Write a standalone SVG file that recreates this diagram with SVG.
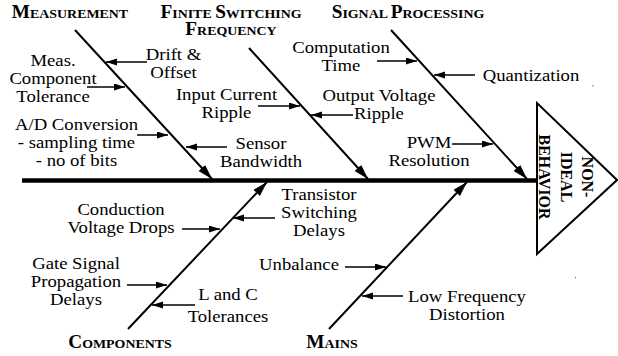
<svg xmlns="http://www.w3.org/2000/svg" width="618" height="356" viewBox="0 0 618 356">
<style>
.t{font-family:'Liberation Serif','DejaVu Serif',serif;font-size:17px;fill:#000;text-anchor:middle}
.h{font-family:'Liberation Serif','DejaVu Serif',serif;font-weight:bold;fill:#000;text-anchor:middle;font-size:13px}
.h .c{font-size:18px}
.bone{stroke:#000;stroke-width:2;fill:none;marker-end:url(#big)}
.sub{stroke:#000;stroke-width:1.5;fill:none;marker-end:url(#small)}
</style>
<defs>
<marker id="big" markerUnits="userSpaceOnUse" markerWidth="16" markerHeight="10" refX="15" refY="4.5" orient="auto"><path d="M0,0 L15,4.5 L0,9 z" fill="#000"/></marker>
<marker id="small" markerUnits="userSpaceOnUse" markerWidth="12" markerHeight="8" refX="11" refY="3.5" orient="auto"><path d="M0,0 L11,3.5 L0,7 z" fill="#000"/></marker>
</defs>
<rect width="618" height="356" fill="#fff"/>

<g id="spine"><line x1="22" y1="180.5" x2="537" y2="180.5" stroke="#000" stroke-width="4.5"/></g>

<g id="effect">
<polygon points="537,103 537,254 617,180" fill="#fff" stroke="#000" stroke-width="2"/>
<text class="h" font-family="Liberation Serif, serif" style="font-size:16px" transform="translate(582,177) scale(1.1,1) rotate(90)"><tspan x="0" y="0">NON-</tspan><tspan x="0" y="19.5">IDEAL</tspan><tspan x="0" y="39">BEHAVIOR</tspan></text>
</g>

<g id="connectors">
<line class="bone" x1="75" y1="30" x2="212" y2="179"/>
<line class="bone" x1="249" y1="48" x2="368" y2="179"/>
<line class="bone" x1="391" y1="30" x2="527" y2="179"/>
<line class="bone" x1="128" y1="329" x2="267" y2="182"/>
<line class="bone" x1="329" y1="329" x2="467" y2="182"/>
<line class="sub" x1="147" y1="62" x2="106" y2="62"/>
<line class="sub" x1="87" y1="87" x2="125" y2="87"/>
<line class="sub" x1="137" y1="135" x2="168" y2="135"/>
<line class="sub" x1="227" y1="147" x2="186" y2="147"/>
<line class="sub" x1="258" y1="106" x2="300" y2="106"/>
<line class="sub" x1="353" y1="115" x2="311" y2="115"/>
<line class="sub" x1="377" y1="61" x2="417" y2="61"/>
<line class="sub" x1="475" y1="75" x2="434" y2="75"/>
<line class="sub" x1="452" y1="144" x2="493" y2="144"/>
<line class="sub" x1="182" y1="229" x2="220" y2="229"/>
<line class="sub" x1="275" y1="218" x2="233" y2="218"/>
<line class="sub" x1="127" y1="285" x2="167" y2="285"/>
<line class="sub" x1="195" y1="305" x2="152" y2="305"/>
<line class="sub" x1="345" y1="267" x2="386" y2="267"/>
<line class="sub" x1="403" y1="296" x2="362" y2="296"/>
</g>

<g id="measurement">
<text class="h" transform="translate(70,18) scale(1.07,1)"><tspan class="c">M</tspan>EASUREMENT</text>
<text class="t" transform="translate(173.5,0) scale(1.1,1)"><tspan x="0" y="60">Drift &amp;</tspan><tspan x="0" y="78">Offset</tspan></text>
<text class="t" transform="translate(53,0) scale(1.1,1)"><tspan x="0" y="66">Meas.</tspan><tspan x="0" y="84">Component</tspan><tspan x="0" y="102">Tolerance</tspan></text>
<text class="t" transform="translate(76.5,0) scale(1.1,1)"><tspan x="0" y="130">A/D Conversion</tspan><tspan x="0" y="148">- sampling time</tspan><tspan x="0" y="166">- no of bits</tspan></text>
<text class="t" transform="translate(261,0) scale(1.1,1)"><tspan x="0" y="149">Sensor</tspan><tspan x="0" y="167">Bandwidth</tspan></text>
</g>

<g id="finite-switching">
<text class="h" transform="translate(231,18) scale(1.07,1)"><tspan class="c">F</tspan>INITE <tspan class="c">S</tspan>WITCHING</text>
<text class="h" transform="translate(231,35) scale(1.07,1)"><tspan class="c">F</tspan>REQUENCY</text>
<text class="t" transform="translate(226.5,0) scale(1.1,1)"><tspan x="0" y="100">Input Current</tspan><tspan x="0" y="118">Ripple</tspan></text>
<text class="t" transform="translate(379,0) scale(1.1,1)"><tspan x="0" y="101">Output Voltage</tspan><tspan x="0" y="119">Ripple</tspan></text>
</g>

<g id="signal-processing">
<text class="h" transform="translate(408,18) scale(1.07,1)"><tspan class="c">S</tspan>IGNAL <tspan class="c">P</tspan>ROCESSING</text>
<text class="t" transform="translate(341,0) scale(1.1,1)"><tspan x="0" y="53">Computation</tspan><tspan x="0" y="71">Time</tspan></text>
<text class="t" transform="translate(531,81) scale(1.1,1)">Quantization</text>
<text class="t" transform="translate(429,0) scale(1.1,1)"><tspan x="0" y="148">PWM</tspan><tspan x="0" y="166">Resolution</tspan></text>
</g>

<g id="components">
<text class="h" transform="translate(120,348) scale(1.07,1)"><tspan class="c">C</tspan>OMPONENTS</text>
<text class="t" transform="translate(121,0) scale(1.1,1)"><tspan x="0" y="215">Conduction</tspan><tspan x="0" y="233">Voltage Drops</tspan></text>
<text class="t" transform="translate(319,0) scale(1.1,1)"><tspan x="0" y="200">Transistor</tspan><tspan x="0" y="218">Switching</tspan><tspan x="0" y="236">Delays</tspan></text>
<text class="t" transform="translate(76,0) scale(1.1,1)"><tspan x="0" y="269">Gate Signal</tspan><tspan x="0" y="287">Propagation</tspan><tspan x="0" y="305">Delays</tspan></text>
<text class="t" transform="translate(228,0) scale(1.1,1)"><tspan x="0" y="300">L and C</tspan><tspan x="0" y="322">Tolerances</tspan></text>
</g>

<g id="mains">
<text class="h" transform="translate(332,348) scale(1.07,1)"><tspan class="c">M</tspan>AINS</text>
<text class="t" transform="translate(299,270) scale(1.1,1)">Unbalance</text>
<text class="t" transform="translate(467,0) scale(1.1,1)"><tspan x="0" y="302">Low Frequency</tspan><tspan x="0" y="320">Distortion</tspan></text>
</g>

<g id="specks" fill="#666">
<rect x="592.5" y="85" width="1" height="1.5"/>
<rect x="575" y="277" width="1" height="1.2"/>
</g>
</svg>
